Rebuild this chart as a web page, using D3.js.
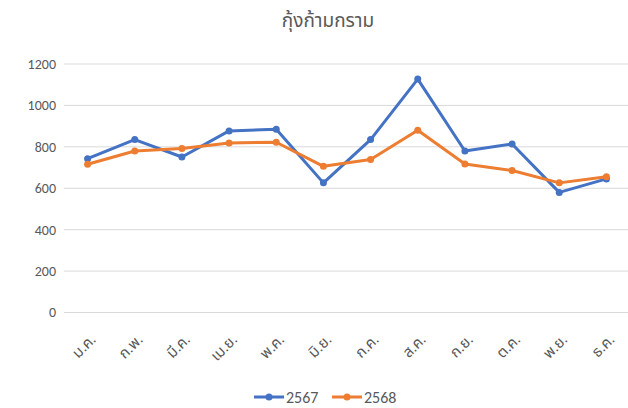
<!DOCTYPE html>
<html>
<head>
<meta charset="utf-8">
<script src="https://cdn.jsdelivr.net/npm/d3@7"></script>
<style>
  body { margin: 0; background: #fff; }
  text { font-family: Calibri, Carlito, "Noto Sans", "Noto Sans Thai", sans-serif; fill: #595959; }
</style>
</head>
<body>
<svg id="chart" width="628" height="408"></svg>
<script>
// data
var months = ["ม.ค.", "ก.พ.", "มี.ค.", "เม.ย.", "พ.ค.", "มิ.ย.", "ก.ค.", "ส.ค.", "ก.ย.", "ต.ค.", "พ.ย.", "ธ.ค."];
var y2567 = [743, 835, 751, 877, 885, 626, 835, 1127, 780, 814, 580, 645];
var y2568 = [716, 780, 792, 819, 822, 706, 739, 880, 717, 686, 626, 655];
var yTicks = [0, 200, 400, 600, 800, 1000, 1200];
var seriesNames = ["2567", "2568"];
var colors = ["#4472C4", "#ED7D31"];

var svg = d3.select("#chart");
var plotLeft = 64, plotRight = 630, plotTop = 64, plotBottom = 312.5;

var x = d3.scaleBand().domain(months).range([plotLeft, plotRight]);
var y = d3.scaleLinear().domain([0, 1200]).range([plotBottom, plotTop]);

// title
svg.append("text")
  .attr("x", 328).attr("y", 27)
  .attr("text-anchor", "middle")
  .style("font-size", "19px")
  .text("กุ้งก้ามกราม");

// gridlines
svg.append("g").selectAll("line").data(yTicks).enter().append("line")
  .attr("x1", plotLeft).attr("x2", plotRight)
  .attr("y1", function (d) { return y(d); })
  .attr("y2", function (d) { return y(d); })
  .attr("stroke", "#d9d9d9").attr("stroke-width", 1);

// y axis labels
var yAxis = d3.axisLeft(y).tickValues(yTicks).tickFormat(d3.format("d")).tickSize(0).tickPadding(0);
var gy = svg.append("g").attr("transform", "translate(" + (plotLeft - 8) + ",0)").call(yAxis);
gy.select(".domain").remove();
gy.selectAll("text").style("font-size", "14px").attr("fill", "#595959")
  .style("font-family", "Calibri, Carlito, 'Noto Sans', sans-serif");

// x axis labels (rotated)
var xAxis = d3.axisBottom(x).tickSize(0).tickPadding(0);
var gx = svg.append("g").attr("transform", "translate(0," + plotBottom + ")").call(xAxis);
gx.select(".domain").remove();
gx.selectAll("text")
  .style("font-size", "15px").attr("fill", "#595959")
  .style("font-family", "Calibri, Carlito, 'Noto Sans', 'Noto Sans Thai', sans-serif")
  .attr("text-anchor", "end")
  .attr("dy", 0).attr("y", 0)
  .attr("transform", "translate(9,28) rotate(-45)");

// lines
var line = d3.line()
  .x(function (d, i) { return x(months[i]) + x.bandwidth() / 2; })
  .y(function (d) { return y(d); });

[y2567, y2568].forEach(function (vals, k) {
  svg.append("path").datum(vals)
    .attr("d", line)
    .attr("fill", "none")
    .attr("stroke", colors[k])
    .attr("stroke-width", 3)
    .attr("stroke-linejoin", "round");
  svg.append("g").selectAll("circle").data(vals).enter().append("circle")
    .attr("cx", function (d, i) { return x(months[i]) + x.bandwidth() / 2; })
    .attr("cy", function (d) { return y(d); })
    .attr("r", 3.5)
    .attr("fill", colors[k]);
});

// legend
var legend = svg.append("g");
seriesNames.forEach(function (name, k) {
  var lx = 254 + k * 78;
  legend.append("line")
    .attr("x1", lx).attr("x2", lx + 30)
    .attr("y1", 397).attr("y2", 397)
    .attr("stroke", colors[k]).attr("stroke-width", 3);
  legend.append("circle")
    .attr("cx", lx + 15).attr("cy", 397).attr("r", 3.5)
    .attr("fill", colors[k]);
  legend.append("text")
    .attr("x", lx + 32).attr("y", 403)
    .style("font-size", "16px")
    .text(name);
});
</script>
</body>
</html>
